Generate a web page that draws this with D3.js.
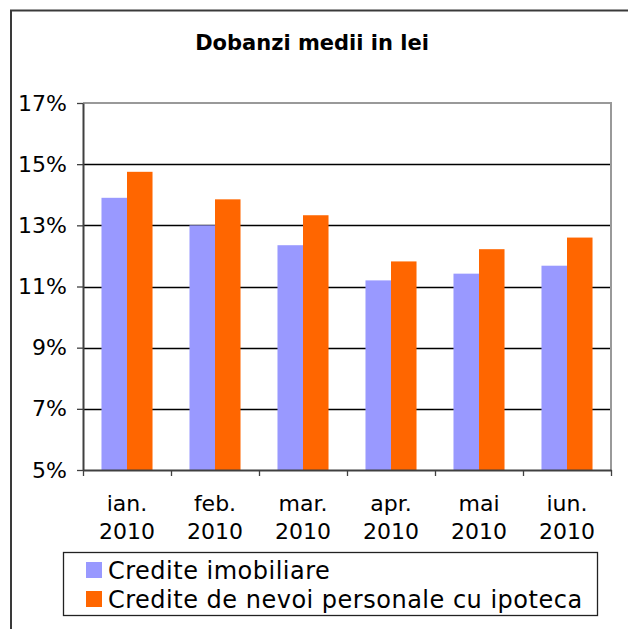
<!DOCTYPE html>
<html>
<head>
<meta charset="utf-8">
<script src="https://cdn.jsdelivr.net/npm/d3@7"></script>
<style>
  body { margin: 0; background: #fff; }
  svg { display: block; font-family: "DejaVu Sans", Verdana, sans-serif; }
</style>
</head>
<body>
<div id="chart"></div>
<script>
// DATA
const months = ["ian.", "feb.", "mar.", "apr.", "mai", "iun."]
const years = ["2010", "2010", "2010", "2010", "2010", "2010"]
const seriesNames = ["Credite imobiliare", "Credite de nevoi personale cu ipoteca"]
const imobiliare = [13.9, 13.0, 12.35, 11.2, 11.42, 11.68]
const nevoiPersonale = [14.75, 13.85, 13.33, 11.82, 12.22, 12.6]
const yTicks = [5, 7, 9, 11, 13, 15, 17]
const colors = ["#9999ff", "#ff6600"]

const seriesValues = [imobiliare, nevoiPersonale]

// DIMENSIONS
const width = 628
const height = 629
const plot = { left: 83, right: 611, top: 103, bottom: 470 }

const svg = d3.select("#chart")
  .append("svg")
  .attr("width", width)
  .attr("height", height)

svg.append("rect")
  .attr("width", width)
  .attr("height", height)
  .attr("fill", "#fff")

// outer chart border (runs off the right/bottom edge)
svg.append("rect")
  .attr("x", 11)
  .attr("y", 10.5)
  .attr("width", 700)
  .attr("height", 700)
  .attr("fill", "none")
  .attr("stroke", "#3a3a3a")
  .attr("stroke-width", 2)

svg.append("text")
  .attr("x", 312)
  .attr("y", 50)
  .attr("text-anchor", "middle")
  .attr("font-size", 21)
  .attr("font-weight", "bold")
  .text("Dobanzi medii in lei")

// SCALES
const x0 = d3.scaleBand()
  .domain(d3.range(months.length))
  .range([plot.left, plot.right])
  .paddingInner(0.42)
  .paddingOuter(0.21)

const x1 = d3.scaleBand()
  .domain(d3.range(seriesNames.length))
  .range([0, x0.bandwidth()])

const yScale = d3.scaleLinear()
  .domain([5, 17])
  .range([plot.bottom, plot.top])

// GRIDLINES
svg.append("g")
  .selectAll("line")
  .data(yTicks.filter(t => t > 5 && t < 17))
  .join("line")
    .attr("x1", plot.left)
    .attr("x2", plot.right)
    .attr("y1", d => Math.round(yScale(d)) + 0.5)
    .attr("y2", d => Math.round(yScale(d)) + 0.5)
    .attr("stroke", "#000")
    .attr("stroke-width", 1.3)

// plot area border (top + right)
svg.append("path")
  .attr("d", `M${plot.left},${yScale(17)}H${plot.right}V${plot.bottom}`)
  .attr("fill", "none")
  .attr("stroke", "#999")
  .attr("stroke-width", 2)

// BARS
const groups = svg.append("g")
  .selectAll("g")
  .data(seriesValues)
  .join("g")
    .attr("fill", (d, i) => colors[i])

groups.each(function (values, si) {
  d3.select(this)
    .selectAll("rect")
    .data(values)
    .join("rect")
      .attr("x", (d, i) => x0(i) + x1(si))
      .attr("y", d => yScale(d))
      .attr("width", x1.bandwidth())
      .attr("height", d => yScale(5) - yScale(d))
})

// Y AXIS
const yAxis = svg.append("g")
  .attr("transform", `translate(${plot.left},0)`)
  .call(d3.axisLeft(yScale)
    .tickValues(yTicks)
    .tickSize(6)
    .tickSizeOuter(0)
    .tickPadding(10)
    .tickFormat(d => d + "%"))
yAxis.select(".domain").attr("stroke", "#404040").attr("stroke-width", 2)
yAxis.selectAll(".tick line").attr("stroke", "#404040").attr("stroke-width", 1.3)
yAxis.selectAll(".tick text")
  .attr("font-size", 22)
  .attr("fill", "#000")
  .attr("font-family", "DejaVu Sans, Verdana, sans-serif")

// X AXIS (category boundaries as ticks)
const boundaries = d3.range(months.length + 1)
const xBound = d3.scaleLinear()
  .domain([0, months.length])
  .range([plot.left, plot.right])
const xAxis = svg.append("g")
  .attr("transform", `translate(0,${plot.bottom})`)
  .call(d3.axisBottom(xBound)
    .tickValues(boundaries)
    .tickSize(6)
    .tickSizeOuter(0)
    .tickFormat(""))
xAxis.select(".domain").attr("stroke", "#404040").attr("stroke-width", 2)
xAxis.selectAll(".tick line").attr("stroke", "#404040").attr("stroke-width", 1.3)

const xLabels = svg.append("g")
  .selectAll("text")
  .data(months)
  .join("text")
    .attr("x", (d, i) => x0(i) + x0.bandwidth() / 2)
    .attr("y", 511)
    .attr("text-anchor", "middle")
    .attr("font-size", 22)
xLabels.append("tspan")
  .attr("x", (d, i) => x0(i) + x0.bandwidth() / 2)
  .text(d => d)
xLabels.append("tspan")
  .attr("x", (d, i) => x0(i) + x0.bandwidth() / 2)
  .attr("dy", 28)
  .text((d, i) => years[i])

// LEGEND
const legend = svg.append("g")
legend.append("rect")
  .attr("x", 63.5)
  .attr("y", 552.5)
  .attr("width", 534)
  .attr("height", 63)
  .attr("fill", "#fff")
  .attr("stroke", "#222")
  .attr("stroke-width", 1.3)

const items = legend.selectAll("g")
  .data(seriesNames)
  .join("g")
    .attr("transform", (d, i) => `translate(0,${i * 29})`)
items.append("rect")
  .attr("x", 86)
  .attr("y", 562)
  .attr("width", 16)
  .attr("height", 16)
  .attr("fill", (d, i) => colors[i])
items.append("text")
  .attr("x", 108)
  .attr("y", 579)
  .attr("font-size", 24)
  .attr("letter-spacing", 0.5)
  .text(d => d)
</script>
</body>
</html>
